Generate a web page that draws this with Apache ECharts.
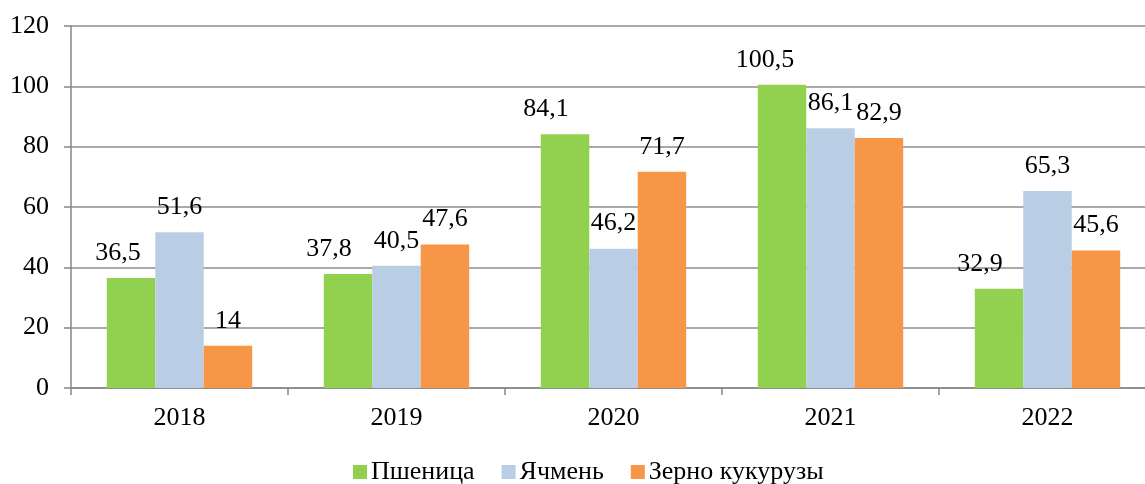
<!DOCTYPE html>
<html>
<head>
<meta charset="utf-8">
<script src="https://cdn.jsdelivr.net/npm/echarts@6/dist/echarts.min.js"></script>
<style>
    html, body { margin: 0; padding: 0; background: #fff; overflow: hidden; }
    #main { width: 1156px; height: 484px; }
</style>
</head>
<body>
<div id="main"></div>
<script>
var years = ['2018', '2019', '2020', '2021', '2022'];
var wheat = [36.5, 37.8, 84.1, 100.5, 32.9];      // Пшеница
var barley = [51.6, 40.5, 46.2, 86.1, 65.3];      // Ячмень
var corn = [14, 47.6, 71.7, 82.9, 45.6];          // Зерно кукурузы
var yTicks = [0, 20, 40, 60, 80, 100, 120];

// подписи у зелёных столбцов в оригинале сдвинуты влево
var wheatLabelShift = [-13, -19, -19, -17, -19];

var fontName = '"Liberation Serif", "Times New Roman", serif';
var fontSz = 26;
// график в оригинале обрезан справа, поэтому холст чуть шире окна
var myChart = echarts.init(document.getElementById('main'));

function fmt(p) {
    return String(p.value).replace('.', ',');
}

function makeSeries(name, values, color, shift) {
    var data = [];
    for (var i = 0; i < values.length; i++) {
        var item = { value: values[i] };
        if (shift) {
            item.label = { offset: [shift[i], 0] };
        }
        data.push(item);
    }
    return {
        name: name,
        type: 'bar',
        barGap: '0%',
        barCategoryGap: '33%',
        itemStyle: { color: color },
        label: {
            show: true,
            position: 'top',
            distance: 12,
            formatter: fmt,
            fontFamily: fontName,
            fontSize: fontSz,
            color: '#000'
        },
        data: data
    };
}

var option = {
    animation: false,
    textStyle: { fontFamily: fontName },
    grid: {
        left: 71,
        top: 26,
        right: 0,
        bottom: 96
    },
    legend: {
        left: 348,
        top: 454,
        itemWidth: 14,
        itemHeight: 14,
        itemGap: 27,
        icon: 'rect',
        textStyle: { fontFamily: fontName, fontSize: fontSz, color: '#000', padding: [0, 0, 0, -1] },
        data: ['Пшеница', 'Ячмень', 'Зерно кукурузы']
    },
    xAxis: {
        type: 'category',
        data: years,
        axisLine: { lineStyle: { color: '#868686', width: 1.5 } },
        axisTick: { show: true, length: 7, lineStyle: { color: '#868686', width: 1.5 } },
        axisLabel: { fontFamily: fontName, fontSize: fontSz, color: '#000', margin: 17 }
    },
    yAxis: {
        type: 'value',
        min: yTicks[0],
        max: yTicks[yTicks.length - 1],
        interval: 20,
        axisLine: { show: true, lineStyle: { color: '#868686', width: 1.5 } },
        axisTick: { show: true, length: 7, lineStyle: { color: '#868686', width: 1.5 } },
        splitLine: { lineStyle: { color: '#8c8c8c', width: 1.5 } },
        axisLabel: { fontFamily: fontName, fontSize: fontSz, color: '#000', margin: 22 }
    },
    series: [
        makeSeries('Пшеница', wheat, '#92D050', wheatLabelShift),
        makeSeries('Ячмень', barley, '#B9CDE5', null),
        makeSeries('Зерно кукурузы', corn, '#F79646', null)
    ]
};
myChart.setOption(option);
</script>
</body>
</html>
